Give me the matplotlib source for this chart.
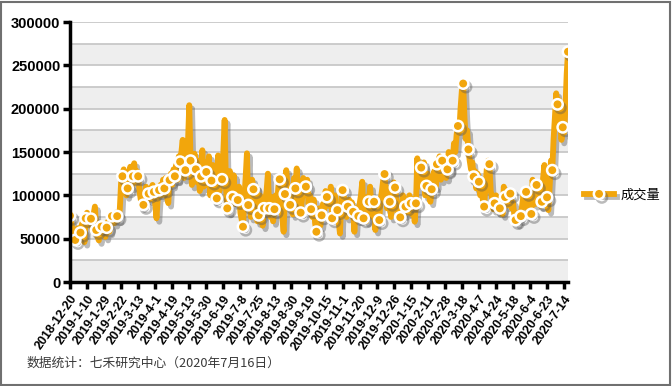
import numpy as np
import matplotlib
matplotlib.use('Agg')
import matplotlib.pyplot as plt
import matplotlib.patheffects as pe
from matplotlib.patches import Rectangle

plt.rcParams['font.family'] = ['Liberation Sans', 'Noto Sans CJK SC']

# daily volume, in thousands (2018-12-20 .. 2020-7-16)
volume_k = [
    76.5, 68, 60, 54,   48.5, 52, 62, 58,   57, 66, 70, 46,   73.5, 80, 66, 70,
    73, 62, 78, 87,     60, 52, 48, 58,     64, 55, 60, 52,   62.7, 70, 58, 66,
    76, 70, 68, 80,     76, 72, 84, 115,    122, 130, 118, 100, 108, 125, 133, 110,
    122, 137, 115, 128, 122, 105, 95, 87,   89, 100, 110, 96,  102, 95, 108, 112,
    104, 90, 73.5, 98,  106, 112, 100, 118, 108, 120, 98, 91,  117.7, 125, 112, 130,
    122, 135, 118, 145, 138.8, 150, 164, 120, 129, 142, 160, 204, 140, 112, 128, 148,
    130, 115, 140, 105, 122, 152, 110, 138, 127, 112, 145, 100, 117, 135, 95, 128,
    96.5, 146, 105, 130, 118.5, 150, 187, 110, 85, 81, 128, 100, 98, 123, 90, 105,
    94.6, 110, 80, 72,  63.8, 95, 120, 148.5, 88.8, 100, 75, 118, 107, 95, 110, 70,
    77, 100, 88, 65,    85, 95, 105, 125,   85, 75, 98, 70,    84, 100, 90, 110,
    118.5, 95, 75, 58,  101.5, 129, 112, 95, 89, 110, 78, 120, 108, 131, 95, 85,
    80, 95, 120, 100,   110, 118, 90, 100,  84, 75, 95, 68,    58, 70, 85, 65,
    77, 90, 82, 105,    98, 88, 95, 110,    73.5, 90, 100, 78, 83, 70, 56, 95,
    106, 98, 88, 75,    87, 95, 80, 92,     81, 58, 85, 72,    76, 90, 100, 115.7,
    73.5, 85, 70, 98,   92.6, 110, 85, 75,  92.6, 60, 88, 80,  71.5, 95, 105, 117.7,
    124.6, 100, 85, 108, 92.6, 75, 98, 115, 109, 95, 80, 90,   74.6, 85, 100, 78,
    87, 92, 80, 100,    90.8, 78, 95, 69.6, 90.8, 142.7, 110, 125, 132, 120, 138, 100,
    110.8, 125, 98, 92.6, 107, 118, 128, 110, 136, 122, 145, 118, 140, 125, 135, 120,
    130, 150, 128, 145, 140, 160, 150, 170, 180, 172, 200, 221, 229, 190, 165, 175,
    153, 140, 130, 138, 121.5, 128, 108, 125, 115.7, 100, 108, 95, 87, 110, 130, 140,
    136, 105, 98, 84,   90.8, 100, 82, 95,  85, 92, 78, 110,   98, 88, 105, 95,
    102, 85, 92, 78,    71.5, 68, 80, 75,   76, 88, 100, 92,   104, 85, 95, 80,
    78.5, 118, 100, 90, 112, 95, 105, 88,   92.6, 120, 135, 100, 97.7, 83, 110, 140,
    129, 165, 190, 217.7, 205, 210, 185, 164, 178.5, 172, 200, 240, 265.7,
]

tick_labels = [
    '2018-12-20', '2019-1-10', '2019-1-29', '2019-2-22', '2019-3-13', '2019-4-1',
    '2019-4-19', '2019-5-13', '2019-5-30', '2019-6-19', '2019-7-8', '2019-7-25',
    '2019-8-13', '2019-8-30', '2019-9-19', '2019-10-15', '2019-11-1', '2019-11-20',
    '2019-12-9', '2019-12-26', '2020-1-15', '2020-2-11', '2020-2-28', '2020-3-18',
    '2020-4-7', '2020-4-24', '2020-5-18', '2020-6-4', '2020-6-23', '2020-7-14',
]

vol = np.array(volume_k) * 1000
x = np.arange(len(vol))
orange = '#F2A60C'

fig = plt.figure(figsize=(6.72, 3.86), dpi=100)
ax = fig.add_axes([70 / 672, 104 / 386, 498 / 672, 260 / 386])

# alternating bands and grid
for lo in range(0, 300000, 50000):
    ax.axhspan(lo, lo + 25000, color='#eeeeee', zorder=0, lw=0)
for g in range(25000, 300001, 25000):
    ax.axhline(g, color='#c4c4c4', lw=1.2, zorder=0.5)

shadow = [pe.SimpleLineShadow(offset=(2, -2.5), shadow_color='#555555', alpha=0.4), pe.Normal()]
line, = ax.plot(
    x, vol,
    color=orange, lw=4.2, solid_joinstyle='round',
    marker='o', markersize=7.5, markerfacecolor=orange,
    markeredgecolor='white', markeredgewidth=1.8,
    markevery=list(range(0, len(vol), 4)),
    path_effects=shadow, zorder=3,
    label='成交量',
)

ax.set_xlim(0, len(vol) - 1)
ax.set_ylim(0, 300000)
ax.set_yticks(range(0, 300001, 50000))
ax.set_yticklabels([str(v) for v in range(0, 300001, 50000)], fontsize=10.5, fontweight='bold')
ax.set_xticks(range(0, 13 * len(tick_labels), 13))
ax.set_xticklabels(tick_labels, rotation=55, ha='right', va='top',
                   rotation_mode='anchor', fontsize=9, fontweight='bold')

for s in ['top', 'right']:
    ax.spines[s].set_visible(False)
for s in ['left', 'bottom']:
    ax.spines[s].set_linewidth(2.5)
    ax.spines[s].set_color('black')
    ax.spines[s].set_zorder(4)
ax.tick_params(axis='both', direction='out', length=5, width=2.5, color='black')
ax.tick_params(axis='y', pad=2)
ax.tick_params(axis='x', pad=3)

leg = fig.legend(handles=[line], loc='center left',
                 bbox_to_anchor=(572 / 672, 1 - 195 / 386),
                 frameon=False, handlelength=2.3, handletextpad=0.5,
                 prop={'family': ['Noto Sans CJK SC'], 'size': 9.5})

fig.text(27 / 672, 1 - 363 / 386, '数据统计：七禾研究中心（2020年7月16日）',
         fontsize=9.2, color='#3a3a3a', va='center', ha='left',
         family=['Noto Sans CJK SC', 'DejaVu Sans'])

fig.patches.append(Rectangle((0.002, 0.003), 0.995, 0.993, transform=fig.transFigure,
                             fill=False, edgecolor='#707070', lw=1.5))

plt.savefig('out.png', dpi=100)
